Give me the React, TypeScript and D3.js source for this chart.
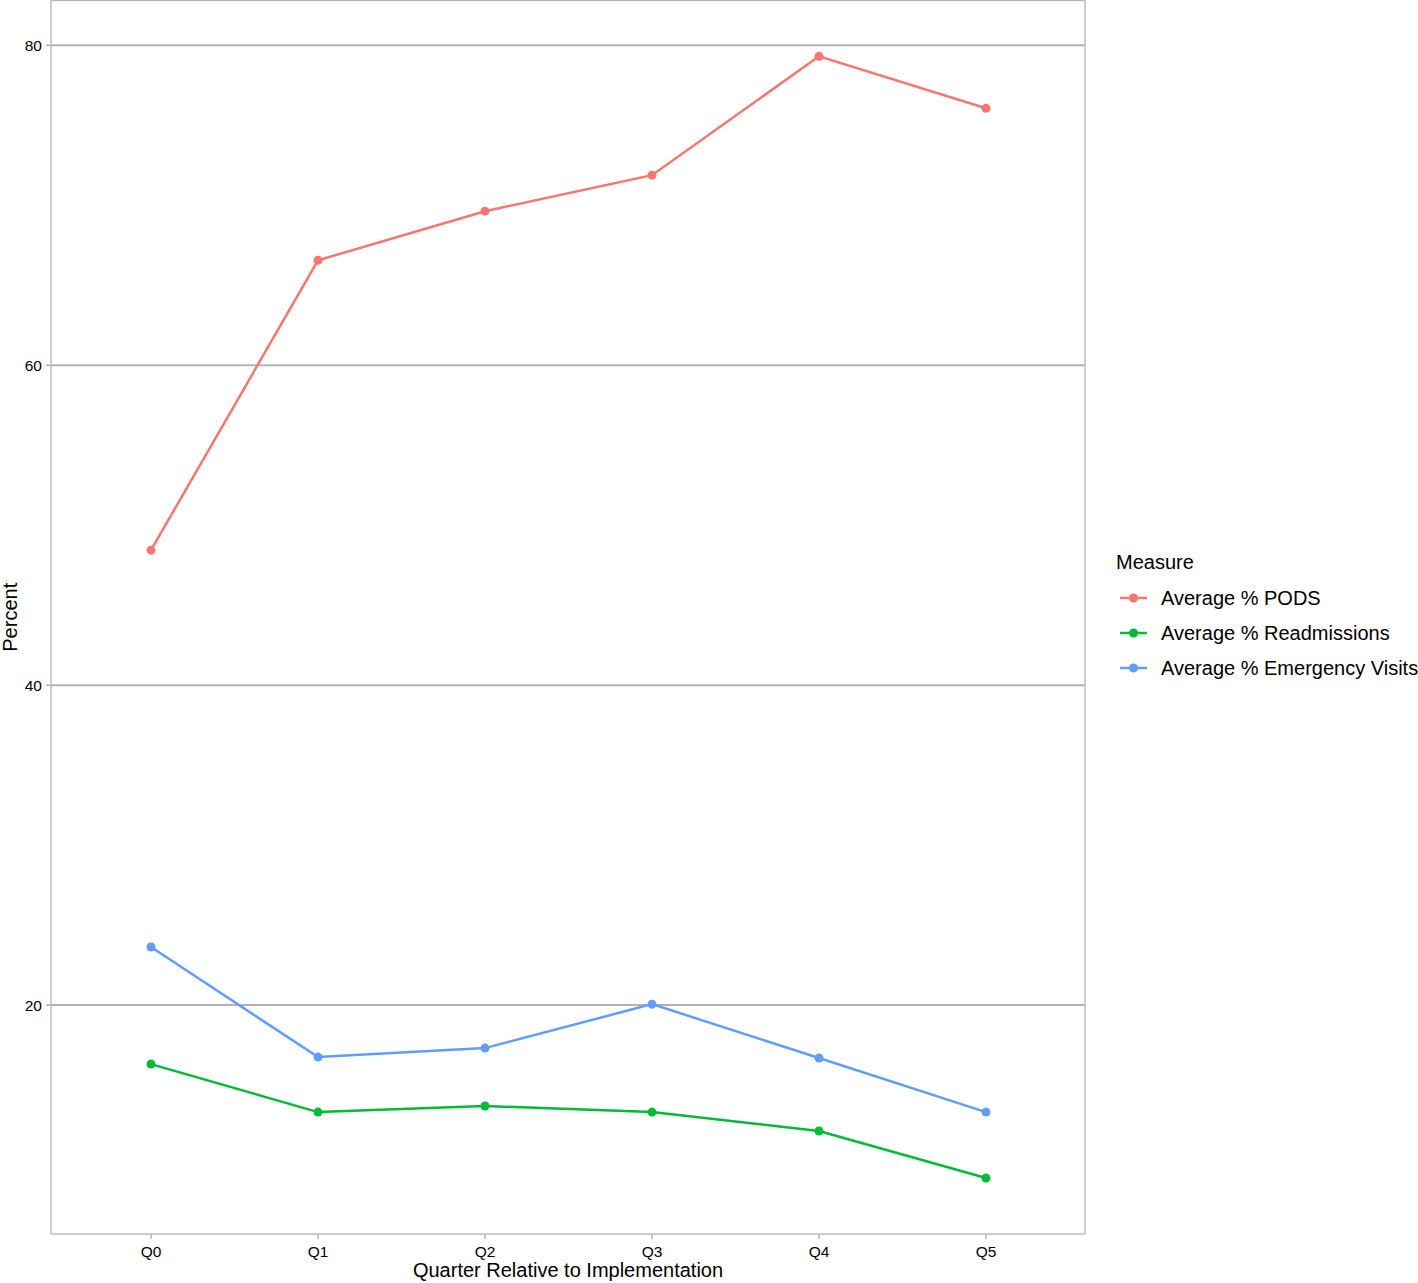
import React from "react";
import * as d3 from "d3";

const quarters = ["Q0", "Q1", "Q2", "Q3", "Q4", "Q5"];
const seriesNames = ["Average % PODS", "Average % Readmissions", "Average % Emergency Visits"];
const seriesColors = ["#F8766D", "#00BA38", "#619CFF"];
const podsValues = [48.44, 66.56, 69.63, 71.88, 79.31, 76.06];
const readmissionValues = [16.31, 13.31, 13.69, 13.31, 12.13, 9.19];
const emergencyValues = [23.63, 16.75, 17.31, 20.06, 16.69, 13.31];
const yTicks = [20, 40, 60, 80];

const W = 1418;
const H = 1283;
const panel = { left: 51, right: 1085, top: 0.5, bottom: 1234 };

export default function App() {
  const x = d3.scalePoint<string>().domain(quarters).range([151, 986]);
  const y = d3.scaleLinear().domain([5.69, 82.8]).range([panel.bottom, panel.top]);
  const allSeries = [podsValues, readmissionValues, emergencyValues];
  const line = d3
    .line<number>()
    .x((_, i) => x(quarters[i]) as number)
    .y((d) => y(d));
  const font = "'Liberation Sans', Arial, sans-serif";
  const grid = "#b3b3b3";

  return (
    <div style={{ position: "absolute", left: 0, top: 0 }}>
      <svg width={W} height={H} style={{ display: "block", fontFamily: font }}>
        <rect x={0} y={0} width={W} height={H} fill="#fff" />
        {yTicks.map((t) => (
          <g key={t}>
            <line x1={panel.left} x2={panel.right} y1={y(t)} y2={y(t)} stroke={grid} strokeWidth={2} />
            <line x1={panel.left - 5} x2={panel.left} y1={y(t)} y2={y(t)} stroke={grid} strokeWidth={1.5} />
            <text x={panel.left - 9} y={y(t)} dy="0.36em" textAnchor="end" fontSize={15.5} fill="#000">
              {t}
            </text>
          </g>
        ))}
        {quarters.map((q) => (
          <g key={q}>
            <line x1={x(q)} x2={x(q)} y1={panel.bottom} y2={panel.bottom + 5} stroke={grid} strokeWidth={1.5} />
            <text x={x(q)} y={panel.bottom + 23} textAnchor="middle" fontSize={15.5} fill="#000">
              {q}
            </text>
          </g>
        ))}
        <rect
          x={panel.left}
          y={panel.top}
          width={panel.right - panel.left}
          height={panel.bottom - panel.top}
          fill="none"
          stroke={grid}
          strokeWidth={1.3}
        />
        {allSeries.map((vals, si) => (
          <g key={si}>
            <path d={line(vals) || ""} fill="none" stroke={seriesColors[si]} strokeWidth={2.5} />
            {vals.map((v, i) => (
              <circle key={i} cx={x(quarters[i])} cy={y(v)} r={4.5} fill={seriesColors[si]} />
            ))}
          </g>
        ))}
        <text x={(panel.left + panel.right) / 2} y={1277} textAnchor="middle" fontSize={20} fill="#000">
          Quarter Relative to Implementation
        </text>
        <text
          transform={`translate(16.5,${(panel.top + panel.bottom) / 2}) rotate(-90)`}
          textAnchor="middle"
          fontSize={20}
          fill="#000"
        >
          Percent
        </text>
        <text x={1116} y={569} fontSize={20} fill="#000">
          Measure
        </text>
        {seriesNames.map((name, i) => {
          const cy = 598 + i * 35;
          return (
            <g key={name}>
              <line x1={1120} x2={1147} y1={cy} y2={cy} stroke={seriesColors[i]} strokeWidth={2.5} />
              <circle cx={1133.5} cy={cy} r={4.5} fill={seriesColors[i]} />
              <text x={1161} y={cy} dy="0.36em" fontSize={20} fill="#000">
                {name}
              </text>
            </g>
          );
        })}
      </svg>
    </div>
  );
}
